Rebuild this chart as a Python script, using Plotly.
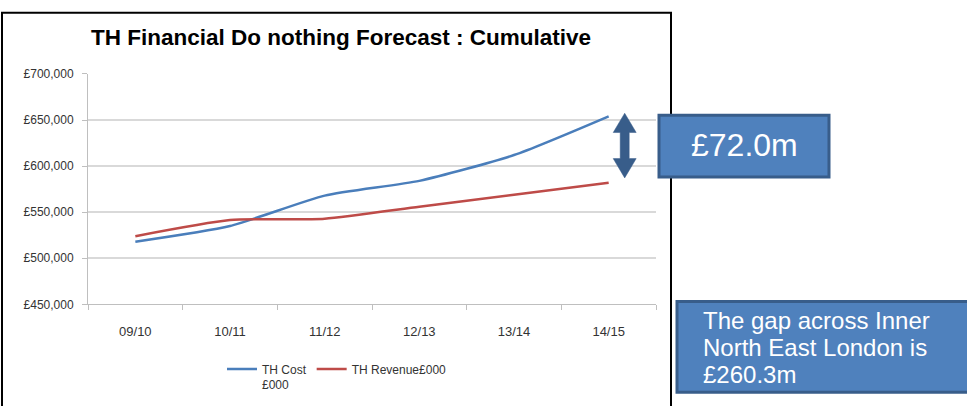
import plotly.graph_objects as go

# ---- data ----
years = ["09/10", "10/11", "11/12", "12/13", "13/14", "14/15"]
th_cost = [518000, 535000, 568000, 584000, 612000, 654000]
th_revenue = [524000, 541500, 543000, 556000, 569000, 582000]
y_ticks = [450000, 500000, 550000, 600000, 650000, 700000]
y_tick_labels = ["£450,000", "£500,000", "£550,000", "£600,000", "£650,000", "£700,000"]

series_names = ["TH Cost<br>£000", "TH Revenue£000"]
title_text = "TH Financial Do nothing Forecast : Cumulative"
gap_label = "£72.0m"
note_lines = ["The gap across Inner", "North East London is", "£260.3m"]

W, H = 967, 406


def fx(x):
    return x / W


def fy(y):
    return 1 - y / H


fig = go.Figure()
fig.add_trace(go.Scatter(x=years, y=th_cost, mode="lines", name=series_names[0],
                         line=dict(color="#4A7EBB", width=2.5, shape="spline", smoothing=0.6)))
fig.add_trace(go.Scatter(x=years, y=th_revenue, mode="lines", name=series_names[1],
                         line=dict(color="#BE4B48", width=2.5, shape="spline", smoothing=0.6)))

font_family = "Liberation Sans, Arial, sans-serif"

shapes = []
# chart frame
shapes.append(dict(type="rect", xref="paper", yref="paper",
                   x0=fx(2), x1=fx(671), y0=fy(420), y1=fy(6),
                   line=dict(color="#000000", width=2), fillcolor="rgba(0,0,0,0)", layer="above"))
# double arrow
cx, top, bot, hw, sw, hh = 624.7, 110, 177, 11.5, 4.5, 20
pts = [(cx, top), (cx + hw, top + hh), (cx + sw, top + hh), (cx + sw, bot - hh),
       (cx + hw, bot - hh), (cx, bot), (cx - hw, bot - hh), (cx - sw, bot - hh),
       (cx - sw, top + hh), (cx - hw, top + hh)]
path = "M " + " L ".join(f"{fx(a):.5f},{fy(b):.5f}" for a, b in pts) + " Z"
shapes.append(dict(type="path", xref="paper", yref="paper", path=path,
                   fillcolor="#385D8A", line=dict(color="#385D8A", width=0.5), layer="above"))
# gap box
shapes.append(dict(type="rect", xref="paper", yref="paper",
                   x0=fx(659), x1=fx(829), y0=fy(176), y1=fy(112),
                   fillcolor="#4F81BD", line=dict(color="#385D8A", width=3), layer="above"))
# note box
shapes.append(dict(type="rect", xref="paper", yref="paper",
                   x0=fx(677), x1=fx(975), y0=fy(399), y1=fy(305),
                   fillcolor="#4F81BD", line=dict(color="#385D8A", width=3), layer="above"))

annotations = []
annotations.append(dict(xref="paper", yref="paper", x=fx(744), y=fy(143), text=gap_label,
                        showarrow=False, xanchor="center", yanchor="middle",
                        font=dict(family=font_family, size=32, color="#FFFFFF")))
for i, line in enumerate(note_lines):
    annotations.append(dict(xref="paper", yref="paper", x=fx(701), y=fy(325 + 28 * i), text=line,
                            showarrow=False, xanchor="left", yanchor="middle",
                            font=dict(family=font_family, size=24, color="#FFFFFF")))

fig.update_layout(
    width=W, height=H,
    margin=dict(l=0, r=0, t=0, b=0),
    paper_bgcolor="white", plot_bgcolor="white",
    title=dict(text=title_text, x=fx(341), xanchor="center", y=fy(37), yanchor="middle",
               font=dict(family=font_family, size=22.5, color="#000000", weight="bold")),
    xaxis=dict(domain=[fx(88), fx(656)], type="category", range=[-0.5, 5.5],
               showgrid=False, showline=True, linecolor="#BFBFBF", linewidth=1,
               ticks="outside", tickson="boundaries", ticklen=5, tickcolor="#BFBFBF",
               tickfont=dict(family=font_family, size=13, color="#333333"),
               ticklabelstandoff=15, fixedrange=True),
    yaxis=dict(domain=[fy(308), fy(69.3)], range=[450000, 700000],
               tickmode="array", tickvals=y_ticks, ticktext=y_tick_labels,
               showgrid=True, gridcolor="#D9D9D9", gridwidth=1.5,
               showline=True, linecolor="#BFBFBF", linewidth=1, zeroline=False,
               ticks="outside", ticklen=5, tickcolor="#BFBFBF",
               tickfont=dict(family=font_family, size=12, color="#333333"),
               ticklabelstandoff=6, fixedrange=True),
    legend=dict(orientation="h", x=fx(222), xanchor="left", y=fy(360), yanchor="top",
                valign="top",
                font=dict(family=font_family, size=12, color="#333333"),
                bgcolor="rgba(0,0,0,0)", itemwidth=30, tracegroupgap=0),
    shapes=shapes,
    annotations=annotations,
    showlegend=True,
)

fig.write_html("out.html")
